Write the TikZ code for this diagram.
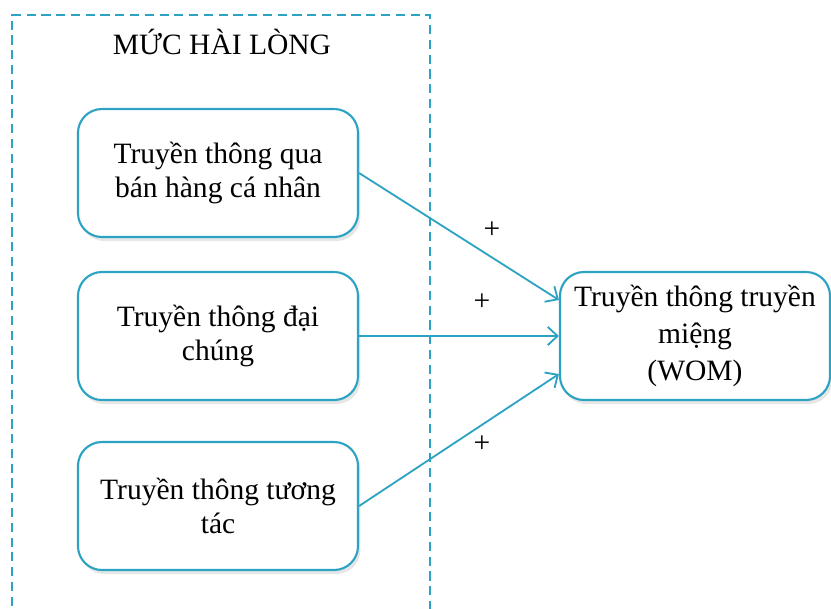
\documentclass[tikz,border=0pt]{standalone}
\usepackage{fontspec}
\setmainfont{Liberation Serif}
\usetikzlibrary{arrows.meta,shadows}
\definecolor{womblue}{RGB}{44,163,194}
\begin{document}
\begin{tikzpicture}[>={Straight Barb[length=7pt,width=13pt,line width=1.3pt]},x=0.025cm,y=-0.025cm,
	khoi/.style={draw=womblue,line width=1.5pt,rounded corners=0.6cm,fill=white,
		minimum width=7cm,minimum height=3.2cm,align=center,
		font=\fontsize{21}{24.5}\selectfont,
		drop shadow={opacity=0.2,shadow xshift=0.6mm,shadow yshift=-1mm}},
	muiten/.style={->,draw=womblue,line width=1.3pt}]
	\useasboundingbox (0,0) rectangle (831,608);
	% khung MUC HAI LONG
	\draw[womblue,line width=1.5pt,dash pattern=on 6.5pt off 4pt] (12,650) -- (12,15) -- (430,15) -- (430,650);
	\node (tieude) at (222,42) {\fontsize{21}{23.5}\selectfont MỨC HÀI LÒNG};
	\node[khoi] (ban) at (218,173) {Truyền thông qua\\bán hàng cá nhân};
	\node[khoi] (dai) at (218,336) {Truyền thông đại\\chúng};
	\node[khoi] (tac) at (218,506) {Truyền thông tương\\tác};
	\node[khoi,minimum width=6.75cm,font=\fontsize{21}{26}\selectfont] (wom) at (695,336) {Truyền thông truyền\\miệng\\(WOM)};
	\draw[muiten] (ban.east) -- ([yshift=0.9cm]wom.west);
	\draw[muiten] (dai.east) -- (wom.west);
	\draw[muiten] (tac.east) -- ([yshift=-0.95cm]wom.west);
	\draw (492,230) node[font=\fontsize{21}{22}\selectfont] (c1) {+};
	\draw (482,302) node[font=\fontsize{21}{22}\selectfont] (c2) {+};
	\draw (482,444) node[font=\fontsize{21}{22}\selectfont] (c3) {+};
\end{tikzpicture}
\end{document}
